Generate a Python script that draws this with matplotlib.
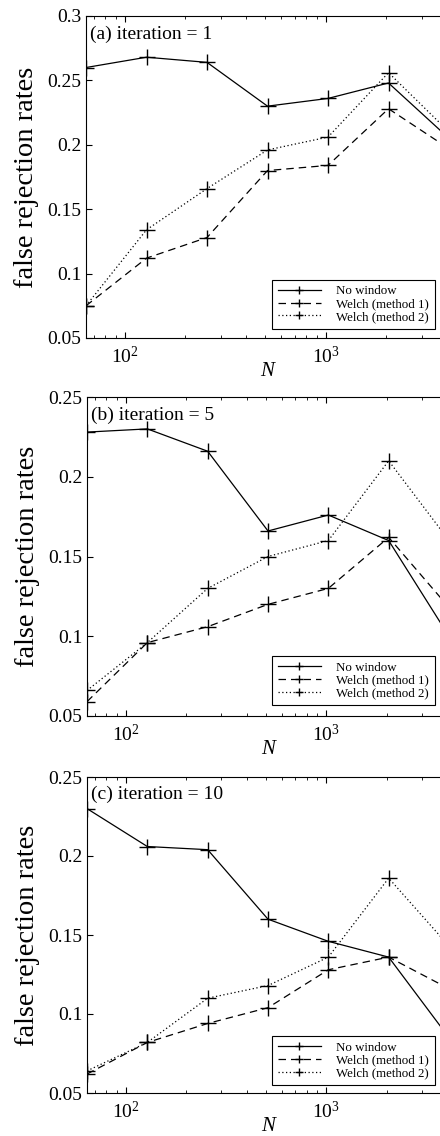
import matplotlib
matplotlib.use('Agg')
import matplotlib.pyplot as plt
from matplotlib.ticker import FixedLocator, FuncFormatter

plt.rcParams['font.family'] = ['Liberation Serif', 'DejaVu Serif']
plt.rcParams['mathtext.fontset'] = 'stix'

N = [64, 128, 256, 512, 1024, 2048, 4096]

# (a) iteration = 1
nowin_1 = [0.260, 0.268, 0.264, 0.230, 0.236, 0.248, 0.205]
welch1_1 = [0.075, 0.112, 0.128, 0.180, 0.184, 0.228, 0.197]
welch2_1 = [0.075, 0.134, 0.166, 0.196, 0.206, 0.256, 0.210]

# (b) iteration = 5
nowin_5 = [0.228, 0.230, 0.216, 0.166, 0.176, 0.160, 0.100]
welch1_5 = [0.059, 0.096, 0.106, 0.120, 0.130, 0.162, 0.118]
welch2_5 = [0.066, 0.096, 0.130, 0.150, 0.160, 0.210, 0.160]

# (c) iteration = 10
nowin_10 = [0.230, 0.206, 0.204, 0.160, 0.146, 0.136, 0.085]
welch1_10 = [0.062, 0.082, 0.094, 0.104, 0.128, 0.136, 0.116]
welch2_10 = [0.064, 0.082, 0.110, 0.118, 0.136, 0.186, 0.143]

panels = [
    ('(a) iteration = 1', nowin_1, welch1_1, welch2_1, 0.30),
    ('(b) iteration = 5', nowin_5, welch1_5, welch2_5, 0.25),
    ('(c) iteration = 10', nowin_10, welch1_10, welch2_10, 0.25),
]
labels = ['No window', 'Welch (method 1)', 'Welch (method 2)']

# pixel boxes (left, top, right, bottom) -- right edge runs past the image
boxes = [(86, 16, 449, 338), (87, 397, 449, 716), (87, 777, 449, 1093)]
legend_y = [0.029, 0.034, 0.025]

W, H = 440, 1136
fig = plt.figure(figsize=(W / 100, H / 100), dpi=100)

for (title, nw, w1, w2, ymax), (l, t, r, b), ly in zip(panels, boxes, legend_y):
    ax = fig.add_axes([l / W, 1 - b / H, (r - l) / W, (b - t) / H])
    kw = dict(color='black', lw=0.9, marker='+', markersize=11, markeredgewidth=1.0)
    ax.plot(N, nw, linestyle='-', label=labels[0], **kw)
    ax.plot(N, w1, linestyle=(0, (6, 4)), label=labels[1], **kw)
    ax.plot(N, w2, linestyle=(0, (1, 2)), label=labels[2], **kw)

    ax.set_xscale('log')
    ax.set_xlim(64, 4096)
    ax.set_ylim(0.05, ymax)
    ticks = [0.05, 0.1, 0.15, 0.2, 0.25, 0.3][:int(round(ymax / 0.05))]
    ax.yaxis.set_major_locator(FixedLocator(ticks))
    ax.yaxis.set_major_formatter(FuncFormatter(lambda v, p: '%g' % v))
    ax.tick_params(which='both', direction='in', top=True, right=True, labelsize=14)
    ax.tick_params(which='major', length=4)
    ax.tick_params(which='minor', length=2)
    ax.tick_params(axis='x', pad=6)

    ax.set_ylabel('false rejection rates', fontsize=20.5)
    ax.yaxis.set_label_coords(-0.13, 0.5)
    ax.set_xlabel('N', fontsize=15, fontstyle='italic', labelpad=-4)

    ax.text(0.012, 0.944, title, transform=ax.transAxes, fontsize=14, va='center', ha='left')

    leg = ax.legend(loc='lower right', bbox_to_anchor=(0.961, ly), fontsize=9.3,
                    handlelength=3.3, markerscale=0.55, labelspacing=0.05,
                    fancybox=False, edgecolor='black', framealpha=1, borderpad=0.45,
                    handletextpad=1.2, borderaxespad=0)
    leg.get_frame().set_linewidth(0.8)

fig.savefig('out.png', dpi=100)
plt.close(fig)
